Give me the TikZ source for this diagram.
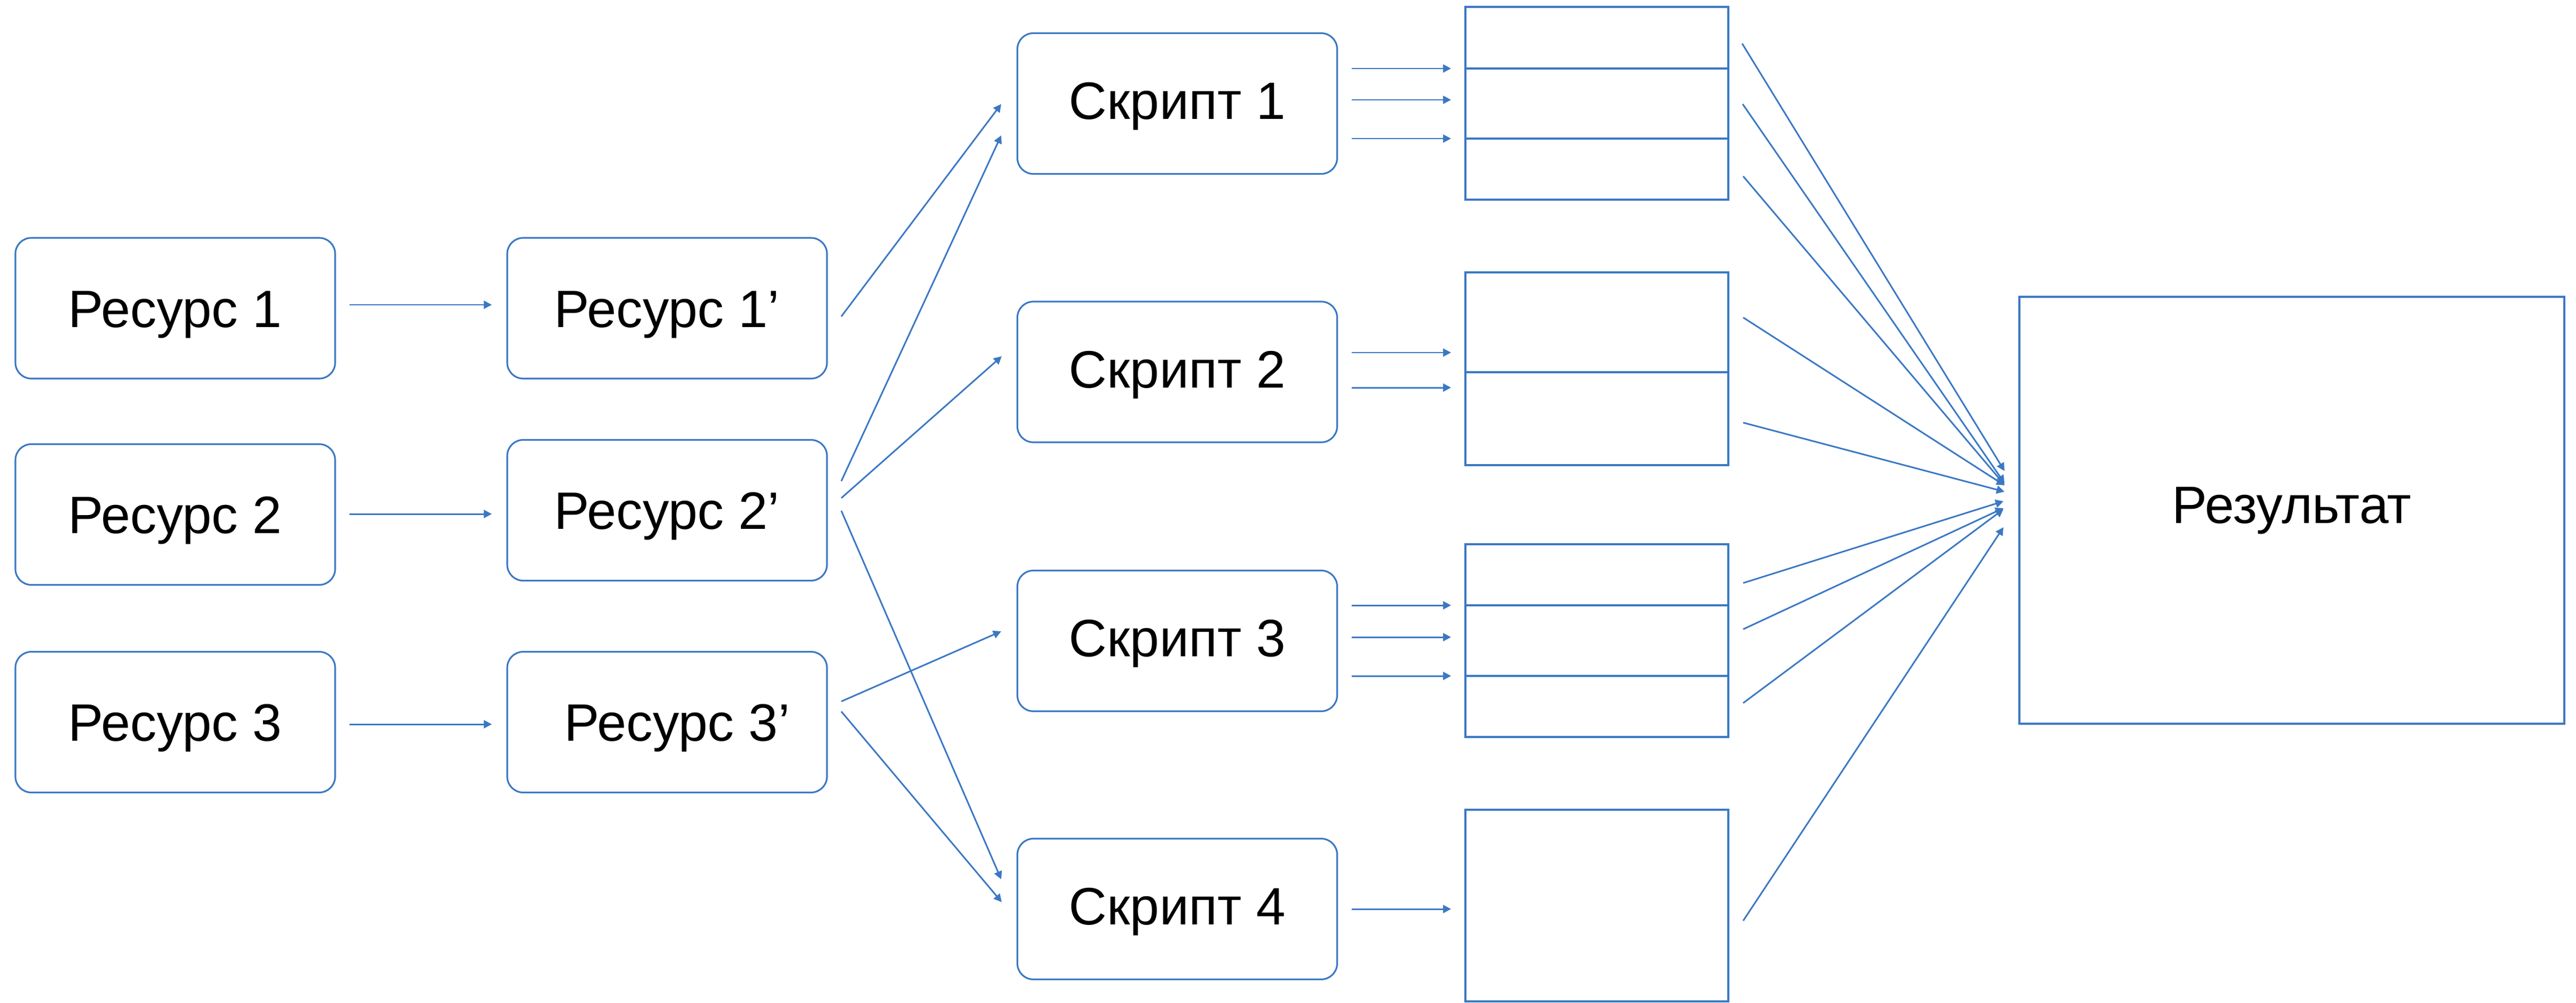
\documentclass[tikz,border=0pt]{standalone}
\usepackage{fontspec}
\setmainfont{Liberation Sans}
\usetikzlibrary{arrows.meta}
\definecolor{lineblue}{RGB}{58,120,196}
\begin{document}
\begin{tikzpicture}[
  lbl/.style={font=\fontsize{28.2}{34}\selectfont, text=black, text height=0.71cm, text depth=0pt},
  rbox/.style={lbl, draw=lineblue, line width=0.9pt, rounded corners=0.3cm,
    minimum width=6.02cm, minimum height=2.65cm, inner sep=0pt},
  tbl/.style={draw=lineblue, line width=0.9pt, minimum width=4.95cm, inner sep=0pt},
  sepline/.style={draw=lineblue, line width=0.9pt},
  arr/.style={draw=lineblue, line width=0.85pt, -{Triangle[length=0.15cm,width=0.15cm]}}
]
\useasboundingbox (0,0) rectangle (48.5,-18.88);

% Resources
\node[rbox] (r1) at (3.30,-5.805) {Ресурс 1};
\node[rbox] (r2) at (3.30,-9.69) {Ресурс 2};
\node[rbox] (r3) at (3.30,-13.60) {Ресурс 3};
\node[rbox] (r1p) at (12.56,-5.805) {Ресурс 1’};
\node[rbox] (r2p) at (12.56,-9.61) {Ресурс 2’};
\node[rbox] (r3p) at (12.56,-13.60) {\hspace{0.38cm}Ресурс 3’};

% Scripts
\node[rbox, text depth=0.12cm] (s1) at (22.165,-1.95) {Скрипт 1};
\node[rbox, text depth=0.12cm] (s2) at (22.165,-7.005) {Скрипт 2};
\node[rbox, text depth=0.12cm] (s3) at (22.165,-12.07) {Скрипт 3};
\node[rbox, text depth=0.12cm] (s4) at (22.165,-17.12) {Скрипт 4};

% Tables
\node[tbl, minimum height=3.63cm] (t1) at (30.065,-1.945) {};
\node[tbl, minimum height=3.63cm] (t2) at (30.065,-6.945) {};
\node[tbl, minimum height=3.63cm] (t3) at (30.065,-12.065) {};
\node[tbl, minimum height=3.61cm] (t4) at (30.065,-17.055) {};
\draw[sepline] (t1.west |- 0,-1.29) -- (t1.east |- 0,-1.29);
\draw[sepline] (t1.west |- 0,-2.61) -- (t1.east |- 0,-2.61);
\draw[sepline] (t2.west |- 0,-7.01) -- (t2.east |- 0,-7.01);
\draw[sepline] (t3.west |- 0,-11.40) -- (t3.east |- 0,-11.40);
\draw[sepline] (t3.west |- 0,-12.73) -- (t3.east |- 0,-12.73);

% Result
\node[lbl, text depth=0.23cm, draw=lineblue, line width=0.9pt, minimum width=10.26cm, minimum height=8.04cm, inner sep=0pt] (res) at (43.15,-9.61) {Результат};

% Resource -> Resource'
\coordinate (a1s) at (6.58,-5.74);  \coordinate (a1e) at (9.26,-5.74);
\coordinate (a2s) at (6.58,-9.68);  \coordinate (a2e) at (9.26,-9.68);
\coordinate (a3s) at (6.58,-13.64); \coordinate (a3e) at (9.26,-13.64);
\draw[arr] (a1s) -- (a1e);
\draw[arr] (a2s) -- (a2e);
\draw[arr] (a3s) -- (a3e);

% Resource' -> Script
\coordinate (b1s) at (15.84,-5.96);  \coordinate (b1e) at (18.85,-1.96);
\coordinate (b2s) at (15.84,-9.06);  \coordinate (b2e) at (18.85,-2.55);
\coordinate (b3s) at (15.84,-9.38);  \coordinate (b3e) at (18.86,-6.71);
\coordinate (b4s) at (15.84,-9.62);  \coordinate (b4e) at (18.85,-16.56);
\coordinate (b5s) at (15.84,-13.21); \coordinate (b5e) at (18.85,-11.89);
\coordinate (b6s) at (15.84,-13.40); \coordinate (b6e) at (18.86,-16.99);
\foreach \i in {1,...,6} { \draw[arr] (b\i s) -- (b\i e); }

% Script -> table rows
\foreach \y in {-1.29,-1.88,-2.61} { \draw[arr] (25.45,\y) -- (27.32,\y); }
\foreach \y in {-6.64,-7.30} { \draw[arr] (25.45,\y) -- (27.32,\y); }
\foreach \y in {-11.40,-12.00,-12.73} { \draw[arr] (25.45,\y) -- (27.32,\y); }
\draw[arr] (25.45,-17.12) -- (27.32,-17.12);

% Tables -> Result
\coordinate (c1s) at (32.80,-0.82);  \coordinate (c1e) at (37.74,-8.87);
\coordinate (c2s) at (32.81,-1.96);  \coordinate (c2e) at (37.74,-9.10);
\coordinate (c3s) at (32.82,-3.32);  \coordinate (c3e) at (37.74,-9.13);
\coordinate (c4s) at (32.82,-5.98);  \coordinate (c4e) at (37.74,-9.14);
\coordinate (c5s) at (32.82,-7.96);  \coordinate (c5e) at (37.74,-9.26);
\coordinate (c6s) at (32.82,-10.98); \coordinate (c6e) at (37.72,-9.44);
\coordinate (c7s) at (32.82,-11.85); \coordinate (c7e) at (37.72,-9.57);
\coordinate (c8s) at (32.82,-13.24); \coordinate (c8e) at (37.72,-9.59);
\coordinate (c9s) at (32.82,-17.34); \coordinate (c9e) at (37.72,-9.93);
\foreach \i in {1,...,9} { \draw[arr] (c\i s) -- (c\i e); }
\end{tikzpicture}
\end{document}
